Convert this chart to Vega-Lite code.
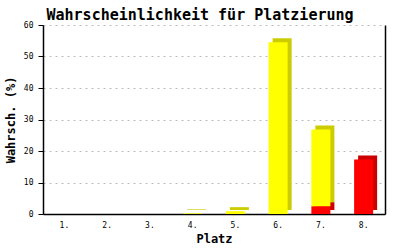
{
  "$schema": "https://vega.github.io/schema/vega-lite/v6.json",
  "width": 342,
  "height": 189,
  "autosize": "none",
  "padding": {"left": 43, "top": 25, "right": 15, "bottom": 36},
  "background": "white",
  "config": {"view": {"stroke": null}, "font": "DejaVu Sans Mono"},
  "title": {
    "text": "Wahrscheinlichkeit für Platzierung",
    "font": "DejaVu Sans Mono",
    "fontSize": 15,
    "fontWeight": "bold",
    "color": "black",
    "anchor": "middle",
    "dx": -14,
    "offset": -2
  },
  "data": {
    "values": [
      {"Platz": "4.", "Typ": "möglich", "Wert": 0.2},
      {"Platz": "5.", "Typ": "möglich", "Wert": 0.9},
      {"Platz": "6.", "Typ": "möglich", "Wert": 54.5},
      {"Platz": "7.", "Typ": "fest", "Wert": 2.5},
      {"Platz": "7.", "Typ": "möglich", "Wert": 24.3},
      {"Platz": "8.", "Typ": "fest", "Wert": 17.3}
    ]
  },
  "encoding": {
    "x": {
      "field": "Platz",
      "type": "nominal",
      "scale": {"domain": ["1.", "2.", "3.", "4.", "5.", "6.", "7.", "8."], "paddingInner": 0.555, "paddingOuter": 0.2775},
      "axis": {
        "labelAngle": 0,
        "labelFont": "DejaVu Sans Mono",
        "labelFontSize": 8,
        "labelColor": "black",
        "labelPadding": 7,
        "ticks": false,
        "domainColor": "black",
        "domainWidth": 1.5,
        "title": "Platz",
        "titleFont": "DejaVu Sans Mono",
        "titleFontSize": 12,
        "titleFontWeight": "bold",
        "titleColor": "black",
        "titlePadding": 4
      }
    }
  },
  "layer": [
    {
      "mark": {"type": "bar", "xOffset": 4, "yOffset": -4},
      "encoding": {
        "y": {
          "field": "Wert",
          "type": "quantitative",
          "stack": "zero",
          "scale": {"domain": [0, 60], "nice": false},
          "axis": {"orient": "right", "labels": false, "ticks": false, "grid": false, "domainColor": "black", "domainWidth": 1.5, "title": null}
        },
        "color": {
          "field": "Typ",
          "type": "nominal",
          "scale": {"domain": ["fest", "möglich"], "range": ["#cc0000", "#cccc00"]},
          "legend": null
        },
        "order": {"field": "Typ", "sort": "ascending"}
      }
    },
    {
      "mark": {"type": "bar"},
      "encoding": {
        "y": {
          "field": "Wert",
          "type": "quantitative",
          "stack": "zero",
          "scale": {"domain": [0, 60], "nice": false},
          "axis": {
            "orient": "left",
            "values": [0, 10, 20, 30, 40, 50, 60],
            "labelFont": "DejaVu Sans Mono",
            "labelFontSize": 8,
            "labelColor": "black",
            "labelPadding": 5,
            "tickColor": "black",
            "tickSize": 5,
            "domainColor": "black",
            "domainWidth": 1.5,
            "grid": true,
            "gridDash": [2, 4],
            "gridColor": "#bbbbbb",
            "title": "Wahrsch. (%)",
            "titleFont": "DejaVu Sans Mono",
            "titleFontSize": 12,
            "titleFontWeight": "bold",
            "titleColor": "black",
            "titlePadding": 6
          }
        },
        "color": {
          "field": "Typ",
          "type": "nominal",
          "scale": {"domain": ["fest", "möglich"], "range": ["#ff0000", "#ffff00"]},
          "legend": null
        },
        "order": {"field": "Typ", "sort": "ascending"}
      }
    }
  ],
  "resolve": {"scale": {"color": "independent"}, "axis": {"y": "independent"}}
}
